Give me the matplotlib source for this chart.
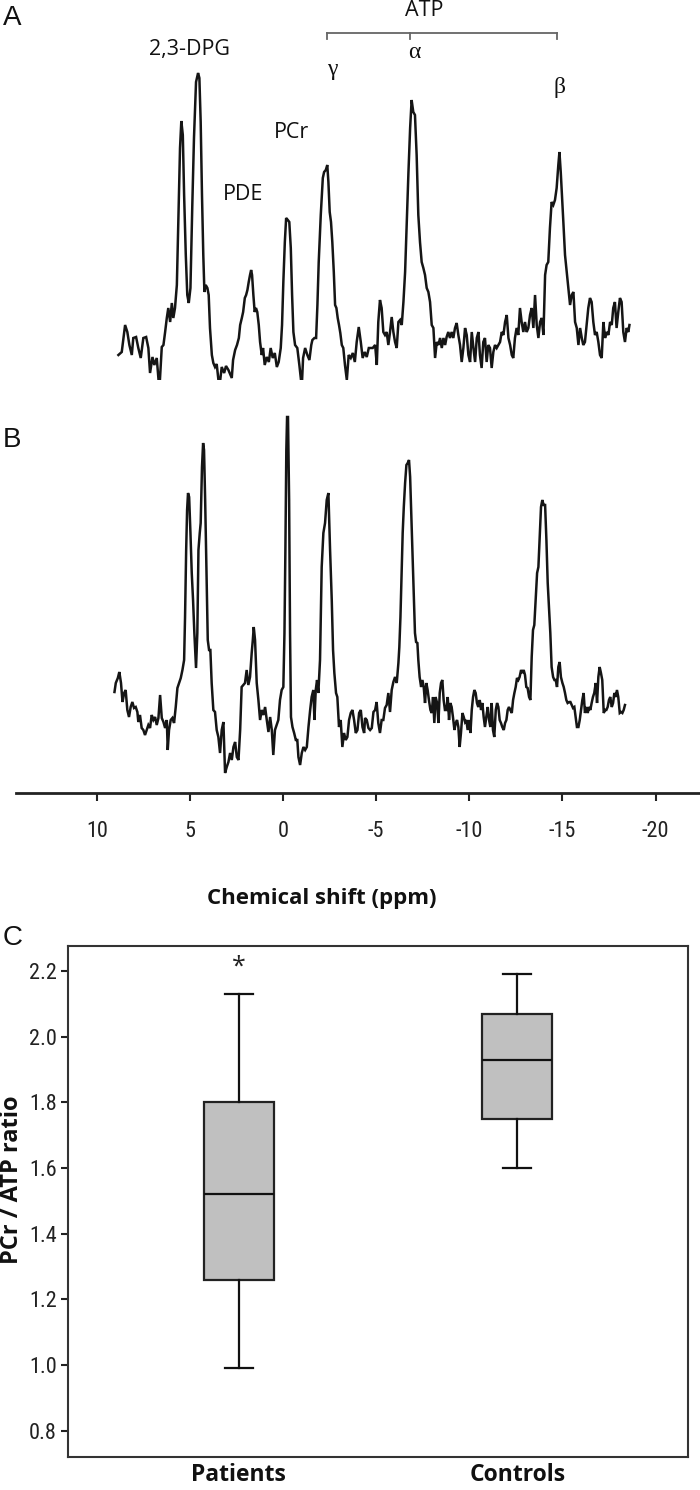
import matplotlib
matplotlib.use('Agg')
import matplotlib.pyplot as plt
from matplotlib import font_manager

# ---------------- data ----------------
# Spectrum A (patient), chemical shift (ppm) and signal intensity (a.u.)
A_ppm = [8.85, 8.67, 8.49, 8.37, 8.26, 8.13, 8.05, 7.90, 7.78, 7.65, 7.51, 7.36, 7.24, 7.15, 7.02, 6.92, 6.79, 6.65,
         6.52, 6.43, 6.34, 6.25, 6.17, 6.07, 5.98, 5.90, 5.81, 5.71, 5.63, 5.54, 5.47, 5.39, 5.32, 5.23, 5.15, 5.07,
         4.98, 4.88, 4.79, 4.68, 4.57, 4.50, 4.43, 4.36, 4.29, 4.23, 4.16, 4.07, 4.00, 3.93, 3.83, 3.75,
         3.66, 3.57, 3.43, 3.30, 3.17, 3.07, 2.94, 2.76, 2.69, 2.58, 2.48, 2.38, 2.31, 2.22, 2.15, 2.06, 1.99, 1.92,
         1.85, 1.78, 1.72, 1.67, 1.60, 1.53, 1.46, 1.39, 1.31, 1.24, 1.15, 1.08, 0.99, 0.88, 0.77, 0.67, 0.56, 0.45,
         0.34, 0.24, 0.13, 0.06, -0.01, -0.09, -0.16, -0.25, -0.33, -0.41, -0.48, -0.55, -0.64, -0.76, -0.87, -1.00,
         -1.07, -1.18, -1.30, -1.41, -1.51, -1.57, -1.68, -1.77, -1.84, -1.91, -2.02, -2.13, -2.20, -2.29, -2.37,
         -2.43, -2.50, -2.57, -2.64, -2.72, -2.79, -2.86, -2.93, -3.00, -3.07, -3.15, -3.23, -3.32, -3.42, -3.52,
         -3.63, -3.74, -3.85, -3.95, -4.06, -4.17, -4.27, -4.38, -4.49, -4.60,
         -4.81, -4.94, -5.03, -5.11, -5.20, -5.29, -5.38, -5.47, -5.56, -5.65, -5.74, -5.83, -5.92, -6.01, -6.10,
         -6.19, -6.28, -6.37, -6.46, -6.55, -6.64, -6.73, -6.82, -6.90, -6.99, -7.08, -7.17, -7.26, -7.35, -7.44,
         -7.53, -7.62, -7.71, -7.80, -7.89, -7.98, -8.07, -8.16, -8.25, -8.34, -8.43, -8.52, -8.61, -8.70, -8.78,
         -8.87, -8.96, -9.05, -9.14, -9.23, -9.32, -9.41, -9.50, -9.59, -9.68, -9.77, -9.86, -9.95, -10.04, -10.13,
         -10.22, -10.31, -10.40, -10.49, -10.57, -10.66, -10.75, -10.84, -10.93, -11.02, -11.11, -11.20, -11.29,
         -11.38, -11.47, -11.56, -11.65, -11.74, -11.83, -11.92, -12.01, -12.10, -12.19, -12.28, -12.36, -12.45,
         -12.54, -12.63, -12.72, -12.81, -12.90, -12.99, -13.08, -13.17, -13.26, -13.35, -13.44, -13.53, -13.62,
         -13.71, -13.80, -13.89, -13.98, -14.07, -14.15, -14.24, -14.33, -14.42, -14.51, -14.60, -14.69, -14.78,
         -14.84, -14.91, -14.98, -15.05, -15.14, -15.23, -15.32, -15.41, -15.50, -15.59, -15.68, -15.77, -15.86,
         -15.95, -16.04, -16.12, -16.21, -16.30, -16.39, -16.48, -16.57, -16.66, -16.75, -16.84, -16.93, -17.02,
         -17.11, -17.20, -17.29, -17.38, -17.47, -17.56, -17.65, -17.73, -17.82, -17.91, -18.00, -18.09, -18.18,
         -18.27, -18.36, -18.45, -18.54, -18.60]
A_int = [15, 18, 45, 38, 25, 15, 32, 33, 22, 12, 32, 33, 22, -3, 13, 5, 12, -20,
         23, 25, 38, 52, 62, 48, 67, 52, 62, 85, 148, 222, 249, 235, 175, 115, 75, 67,
         82, 165, 232, 288, 297, 292, 248, 175, 115, 78, 85, 82, 75, 42, 15, 7,
         3, 6, -18, 3, -3, 4, 0, -8, 10, 20, 25, 32, 45, 52, 58, 72, 75, 80,
         88, 95, 100, 95, 75, 58, 62, 58, 45, 28, 15, 22, 5, 13, 8, 22, 12, 17,
         3, 8, 22, 45, 88, 128, 152, 150, 148, 122, 75, 38, 25, 22, 5, -17,
         12, 22, 15, 10, 25, 30, 32, 32, 65, 108, 155, 192, 198, 200, 205,
         188, 158, 148, 128, 98, 65, 62, 52, 45, 37, 25, 22, 5, -10, 15,
         12, 17, 8, 28, 43, 28, 12, 18, 13, 22,
         22, 25, 5, 48, 70, 62, 38, 35, 38, 25, 38, 53, 38, 28, 22,
         48, 50, 45, 68, 98, 148, 198, 242, 270, 258, 255, 215, 155, 128, 108,
         102, 95, 82, 78, 68, 45, 42, 12, 28, 25, 32, 22, 32, 25, 33,
         38, 32, 38, 32, 42, 47, 35, 25, 8, 22, 42, 35, 15, 8, 38,
         22, 8, 32, 38, 15, 2, 28, 32, 8, 25, 22, 2, 18,
         25, 22, 25, 28, 38, 35, 48, 55, 32, 25, 15, 12, 32,
         42, 35, 62, 48, 38, 48, 38, 42, 55, 62, 42, 75, 45,
         32, 48, 52, 35, 95, 105, 108, 142, 168, 165, 170, 182, 205,
         218, 198, 172, 148, 115, 98, 82, 65, 75, 78, 48, 42, 25,
         42, 32, 25, 28, 45, 62, 72, 68, 48, 35, 38, 28, 15,
         12, 48, 32, 38, 35, 48, 45, 62, 68, 42, 58, 72, 68,
         38, 28, 42, 38, 45]

# Spectrum B (control)
B_ppm = [9.06, 8.99, 8.88, 8.80, 8.71, 8.63, 8.54, 8.46, 8.37, 8.28, 8.19, 8.10, 8.01, 7.92, 7.83, 7.78, 7.69, 7.60,
         7.51, 7.42, 7.33, 7.24, 7.15, 7.06, 6.97, 6.88, 6.79, 6.70, 6.61, 6.52, 6.43, 6.34, 6.25, 6.20, 6.13, 6.04,
         5.95, 5.86, 5.77, 5.68, 5.59, 5.50, 5.41, 5.32, 5.27, 5.21, 5.16, 5.11, 5.05, 4.98, 4.91, 4.84, 4.77, 4.68,
         4.61, 4.55, 4.48, 4.43, 4.36, 4.30, 4.25, 4.19, 4.12, 4.05, 3.98, 3.91, 3.84, 3.75, 3.66, 3.57, 3.48, 3.39,
         3.30, 3.21, 3.12, 3.03, 2.94, 2.85, 2.76, 2.67, 2.58, 2.49, 2.40, 2.31, 2.23, 2.14, 2.05, 1.96, 1.87, 1.78,
         1.69, 1.63, 1.58, 1.51, 1.42, 1.33, 1.24, 1.15, 1.06, 0.97, 0.88, 0.79, 0.70, 0.61, 0.53, 0.44, 0.35, 0.26,
         0.17, 0.08, -0.01, -0.07, -0.12, -0.17, -0.21, -0.26, -0.32, -0.37, -0.42, -0.50, -0.59, -0.68, -0.76,
         -0.82, -0.91, -1.00, -1.09, -1.18, -1.27, -1.36, -1.45, -1.53, -1.62, -1.68, -1.75, -1.82, -1.89, -1.98,
         -2.07, -2.16, -2.25, -2.34, -2.43, -2.52, -2.61, -2.68, -2.75, -2.84, -2.91, -3.00, -3.09, -3.18, -3.27,
         -3.36, -3.45, -3.54, -3.63, -3.72, -3.81, -3.90, -3.99, -4.08, -4.17, -4.26, -4.35,
         -4.40, -4.49, -4.58, -4.67, -4.76, -4.85, -4.94, -5.02, -5.11, -5.20, -5.29, -5.38, -5.47, -5.56, -5.65,
         -5.74, -5.83, -5.92, -6.01, -6.10, -6.19, -6.24, -6.30, -6.37, -6.42, -6.48, -6.55, -6.62, -6.69, -6.76,
         -6.82, -6.87, -6.94, -7.01, -7.08, -7.14, -7.21, -7.26, -7.33, -7.41, -7.48, -7.55, -7.62, -7.69, -7.76,
         -7.83, -7.91, -7.98, -8.05, -8.12, -8.19, -8.27, -8.34, -8.41, -8.48, -8.55, -8.62, -8.69, -8.77, -8.84,
         -8.91, -8.98, -9.05, -9.12, -9.20, -9.27, -9.34, -9.41, -9.48, -9.55, -9.63, -9.70, -9.77, -9.84, -9.91,
         -9.98, -10.06, -10.13, -10.20, -10.27, -10.34, -10.41, -10.48, -10.56, -10.63, -10.70, -10.77, -10.84,
         -10.91, -10.99, -11.06, -11.13, -11.20, -11.27, -11.34, -11.42, -11.49, -11.56, -11.63, -11.70, -11.77,
         -11.85, -11.92, -11.99, -12.06, -12.13, -12.20, -12.28, -12.35, -12.42, -12.49, -12.56, -12.63, -12.70,
         -12.78, -12.85, -12.92, -12.99, -13.06, -13.13, -13.21, -13.28, -13.35, -13.42, -13.49, -13.56, -13.64,
         -13.71, -13.78, -13.85, -13.92, -13.99, -14.07, -14.14, -14.21, -14.28, -14.35, -14.42, -14.50, -14.57,
         -14.64, -14.71, -14.78, -14.85, -14.92, -15.00, -15.07, -15.14, -15.21, -15.28, -15.36, -15.43, -15.50,
         -15.57, -15.64, -15.71, -15.78, -15.86, -15.93, -16.00, -16.07, -16.14, -16.21, -16.29, -16.36, -16.43,
         -16.50, -16.57, -16.64, -16.71, -16.79, -16.86, -16.93, -17.00, -17.07, -17.14, -17.22, -17.29, -17.36,
         -17.43, -17.50, -17.57, -17.65, -17.72, -17.79, -17.86, -17.93, -18.00, -18.08, -18.15, -18.22, -18.29,
         -18.36]
B_int = [98, 107, 112, 118, 107, 88, 97, 100, 80, 73, 83, 88, 82, 83, 78, 68, 75, 62,
         60, 55, 60, 65, 62, 75, 70, 73, 65, 72, 95, 72, 68, 62, 70, 40, 60, 70,
         72, 67, 83, 102, 107, 112, 120, 130, 173, 240, 280, 297, 293, 257, 217, 190, 157, 122,
         157, 240, 257, 267, 323, 347, 340, 290, 217, 150, 140, 140, 107, 80, 78, 60, 53, 37,
         60, 68, 17, 23, 28, 37, 30, 43, 48, 33, 30, 60, 103, 105, 107, 120, 105, 113,
         137, 150, 163, 150, 107, 90, 70, 80, 75, 83, 70, 58, 73, 60, 35, 60, 65, 70,
         90, 100, 103, 157, 240, 340, 373, 373, 290, 157, 73, 63, 57, 50, 50,
         33, 25, 37, 43, 40, 43, 63, 80, 93, 100, 70, 100, 110, 97, 130,
         223, 257, 267, 290, 297, 240, 190, 140, 117, 97, 93, 63, 70, 43, 57,
         50, 53, 70, 77, 80, 70, 57, 60, 77, 80, 63, 57,
         72, 70, 62, 60, 62, 78, 80, 88, 67, 57, 70, 70, 82, 85, 97,
         78, 100, 108, 113, 107, 127, 143, 173, 223, 257, 283, 307, 325, 327, 330,
         313, 283, 240, 197, 157, 148, 147, 130, 113, 103, 110, 103, 87, 107, 100,
         90, 80, 77, 93, 67, 93, 87, 67, 97, 107, 110, 90, 80, 80, 93,
         70, 87, 83, 73, 60, 67, 70, 63, 43, 57, 77, 73, 68, 70, 60,
         70, 57, 80, 93, 100, 97, 87, 83, 90, 80, 87, 73, 63,
         73, 83, 70, 63, 87, 60, 53, 80, 87, 83, 70, 67, 63,
         60, 67, 70, 80, 83, 80, 77, 90, 97, 103, 112, 110, 113,
         120, 117, 120, 115, 103, 102, 93, 90, 133, 160, 165, 190, 217,
         223, 253, 283, 290, 285, 285, 250, 207, 183, 157, 123, 113, 110,
         110, 103, 123, 128, 113, 107, 103, 97, 90, 87, 88, 88, 85,
         82, 83, 73, 63, 63, 70, 80, 90, 97, 77, 83, 77, 83,
         80, 87, 93, 97, 107, 87, 113, 123, 117, 110, 77, 80, 80,
         83, 90, 93, 83, 87, 97, 93, 100, 93, 77, 78, 77, 80,
         85]

ppm_ticks = [10, 5, 0, -5, -10, -15, -20]

# Panel C: PCr/ATP ratio box plot summary (whisker low, Q1, median, Q3, whisker high)
groups = ['Patients', 'Controls']
patients_box = [0.99, 1.26, 1.52, 1.80, 2.13]
controls_box = [1.60, 1.75, 1.93, 2.07, 2.19]
ratio_ticks = [0.8, 1.0, 1.2, 1.4, 1.6, 1.8, 2.0, 2.2]

# ---------------- fonts ----------------
avail = {f.name for f in font_manager.fontManager.ttflist}
def pick(cands, default='DejaVu Sans'):
    for c in cands:
        if c in avail:
            return c
    return default
COND = pick(['Liberation Sans Narrow', 'Roboto Condensed', 'Open Sans Condensed', 'Open Sans'])
SANS = pick(['Open Sans', 'Lato', 'Noto Sans'])
ARIAL = pick(['Liberation Sans', 'Arial'])
SERIF = pick(['Liberation Serif', 'DejaVu Serif'])

W, H = 700, 1490
fig = plt.figure(figsize=(W / 100, H / 100), dpi=100)

def fx(px):
    return px / W

def fy(py):
    return 1 - py / H

XLIM = (14.35, -22.39)
LINE = '#151515'

# ---------------- Panel A ----------------
axA = fig.add_axes([fx(16), fy(380), fx(684), 380 / H])
axA.plot(A_ppm, A_int, color=LINE, lw=1.8, solid_joinstyle='miter')
axA.set_xlim(*XLIM)
axA.set_ylim(-10, 370)
axA.axis('off')

txt = dict(ha='center', va='center', family=SANS, fontsize=15.5, color='#111')
axA.text(5.03, 320, '2,3-DPG', **txt)
axA.text(2.15, 175, 'PDE', **txt)
axA.text(-0.46, 238, 'PCr', **txt)
axA.text(-7.60, 360, 'ATP', **txt)
gk = dict(ha='center', va='center', family=SERIF, fontsize=17, color='#111')
axA.text(-2.63, 300, 'γ', **gk)
axA.text(-7.03, 317, 'α', **gk)
axA.text(-14.87, 283, 'β', **gk)
atp_pos = [-2.34, -6.82, -14.73]
axA.plot([atp_pos[0], atp_pos[-1]], [337, 337], color='#666', lw=1.3, clip_on=False)
for p in atp_pos:
    axA.plot([p, p], [337, 331], color='#666', lw=1.3, clip_on=False)

# ---------------- Panel B ----------------
axB = fig.add_axes([fx(16), fy(793), fx(684), 393 / H])
axB.plot(B_ppm, B_int, color=LINE, lw=1.8, solid_joinstyle='miter')
axB.set_xlim(*XLIM)
axB.set_ylim(-3, 390)
for s in ['top', 'left', 'right']:
    axB.spines[s].set_visible(False)
axB.spines['bottom'].set_linewidth(2.0)
axB.spines['bottom'].set_color('#222')
axB.set_yticks([])
axB.set_xticks(ppm_ticks)
axB.set_xticklabels([str(t) for t in ppm_ticks], family=COND, fontsize=16, color='#222')
axB.tick_params(axis='x', direction='out', length=6, width=1.5, color='#222', pad=14)

fig.text(fx(322), fy(898), 'Chemical shift (ppm)', ha='center', va='center',
         family=SANS, fontweight='bold', fontsize=16, color='#111')

# ---------------- Panel C ----------------
axC = fig.add_axes([fx(68), fy(1457), fx(620), 511 / H])
stats = []
for name, v in zip(groups, [patients_box, controls_box]):
    stats.append(dict(label=name, whislo=v[0], q1=v[1], med=v[2], q3=v[3], whishi=v[4], fliers=[]))
axC.bxp(stats, positions=[1, 2], widths=0.25, patch_artist=True, showfliers=False,
        boxprops=dict(facecolor='#c0c0c0', edgecolor='#222', linewidth=1.6),
        medianprops=dict(color='#111', linewidth=1.6),
        whiskerprops=dict(color='#111', linewidth=1.6),
        capprops=dict(color='#111', linewidth=1.6), capwidths=0.1)
axC.set_xlim(0.387, 2.613)
axC.set_ylim(0.72, 2.276)
axC.set_yticks(ratio_ticks)
axC.set_yticklabels([f'{t:.1f}' for t in ratio_ticks], family=COND, fontsize=16, color='#222')
axC.tick_params(axis='y', direction='out', length=5, width=1.5, color='#222', pad=3)
axC.set_xticks([1, 2])
axC.set_xticklabels(groups, family=SANS, fontweight='bold', fontsize=16.5, color='#111')
axC.tick_params(axis='x', length=0, pad=4)
for s in axC.spines.values():
    s.set_linewidth(1.5)
    s.set_color('#333')
axC.text(1, 2.213, '*', ha='center', va='center', fontsize=18, family=SANS, color='#222')

fig.text(fx(12), fy(1180), 'PCr / ATP ratio', rotation=90, ha='center', va='center',
         family=SANS, fontweight='bold', fontsize=17, color='#111')

# panel letters
pl = dict(ha='center', va='center', family=ARIAL, fontsize=20, color='#111')
fig.text(fx(12), fy(18), 'A', **pl)
fig.text(fx(12), fy(440), 'B', **pl)
fig.text(fx(13), fy(938), 'C', **pl)

fig.savefig('out.png', dpi=100)
